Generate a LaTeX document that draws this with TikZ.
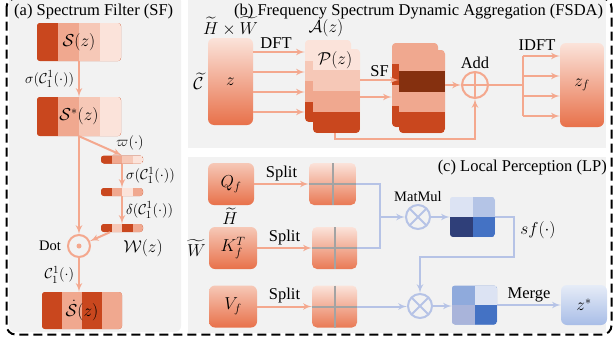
\documentclass[tikz,border=0pt]{standalone}
\usepackage{fontspec}
\setmainfont{Liberation Serif}
\usepackage{amsmath}
\usetikzlibrary{arrows,calc,positioning}

\definecolor{sfdark}{HTML}{C9471E}
\definecolor{sfmid}{HTML}{F0A88F}
\definecolor{sflight}{HTML}{F6C8B7}
\definecolor{sfpale}{HTML}{FBE3DA}
\definecolor{sfbrown}{HTML}{85300F}
\definecolor{sfline}{HTML}{F4A88E}
\definecolor{sfdeep}{HTML}{E8714A}
\definecolor{lpline}{HTML}{B6C3E6}
\definecolor{lpgrid}{HTML}{A3A3A3}
\definecolor{lpnavy}{HTML}{2F3F79}
\definecolor{lpblue}{HTML}{4472C4}
\definecolor{lpsky}{HTML}{B4C4E6}
\definecolor{lpice}{HTML}{DCE3F3}
\definecolor{lpmid}{HTML}{8FAADC}
\definecolor{lplav}{HTML}{A9B4DA}
\definecolor{lptop}{HTML}{E6ECF7}
\definecolor{lpbot}{HTML}{A8BDE7}
\definecolor{panelgray}{HTML}{F2F2F2}

\tikzset{
  hbar/.style n args={4}{inner sep=0pt,fill=#1,rounded corners=3pt,
    path picture={\foreach \c [count=\i from 0] in {#1,#2,#3,#4}
      \fill[\c,sharp corners]
        ($(path picture bounding box.north west)!\i/4!(path picture bounding box.north east)$) rectangle
        ($(path picture bounding box.south west)!{(\i+1)/4}!(path picture bounding box.south east)$);}},
  vbar/.style n args={4}{inner sep=0pt,fill=#1,rounded corners=4pt,
    path picture={\foreach \c [count=\i from 0] in {#1,#2,#3,#4}
      \fill[\c,sharp corners]
        ($(path picture bounding box.north west)!\i/4!(path picture bounding box.south west)$) rectangle
        ($(path picture bounding box.north east)!{(\i+1)/4}!(path picture bounding box.south east)$);}},
  quad/.style n args={4}{inner sep=0pt,fill=#1,rounded corners=3pt,
    path picture={
      \fill[#1,sharp corners] (path picture bounding box.north west) rectangle (path picture bounding box.center);
      \fill[#2,sharp corners] (path picture bounding box.north east) rectangle (path picture bounding box.center);
      \fill[#3,sharp corners] (path picture bounding box.south west) rectangle (path picture bounding box.center);
      \fill[#4,sharp corners] (path picture bounding box.south east) rectangle (path picture bounding box.center);}},
}

\begin{document}
\begin{tikzpicture}
[x=1pt,y=-1pt,>=latex',
 every node/.style={font=\fontsize{16.5}{19}\selectfont,inner sep=1pt}]
  \tikzstyle{flow}=[->,draw=sfline,line width=2pt]
  \tikzstyle{flowwire}=[draw=sfline,line width=2pt]
  \tikzstyle{lpflow}=[->,draw=lpline,line width=2pt]
  \tikzstyle{lpwire}=[draw=lpline,line width=2pt]
  \tikzstyle{small}=[font=\fontsize{15}{17}\selectfont]
  \tikzstyle{mid}=[font=\fontsize{14.5}{17}\selectfont]
  \tikzstyle{gradbox}=[inner sep=0pt,rounded corners=6pt,top color=sfpale,bottom color=sfdeep]
  \tikzstyle{splitbox}=[inner sep=0pt,rounded corners=5pt,top color=sfpale,bottom color=sfdeep!85!sfmid,
    path picture={\draw[lpgrid,line width=2pt] (path picture bounding box.north) -- (path picture bounding box.south)
      (path picture bounding box.west) -- (path picture bounding box.east);}]
  \tikzstyle{op}=[circle,minimum size=24pt,inner sep=0pt,line width=2pt]

  \useasboundingbox (0,0) rectangle (613,343);
  % panels and frame
  \fill[panelgray,rounded corners=6pt] (9,-5) rectangle (181,332);
  \fill[panelgray] (188,-5) rectangle (606,148);
  \fill[panelgray] (188,157) rectangle (606,333);
  \draw[line width=2pt,dash pattern=on 9pt off 5pt,rounded corners=9pt] (6.5,-1.5) rectangle (611.5,334.5);

  % (a) spectrum filter
  \node[anchor=west] (ta) at (13,12) {(a) Spectrum Filter (SF)};
  \node[hbar={sfdark}{sfmid}{sflight}{sfpale},minimum width=84,minimum height=38] (S) at (79,42) {$\mathcal{S}(z)$};
  \node[hbar={sfdark}{sfmid}{sflight}{sfpale},minimum width=84,minimum height=39] (Sstar) at (79,116.5) {$\mathcal{S}^{*}(z)$};
  \node[hbar={sfdark}{sfmid}{sflight}{sfpale},minimum width=42,minimum height=8] (bar1) at (122,159.5) {};
  \node[hbar={sfdark}{sfmid}{sfpale}{sfmid},minimum width=42,minimum height=8] (bar2) at (122,192) {};
  \node[hbar={sfdark}{sflight}{sfdark}{sfmid},minimum width=42,minimum height=8] (bar3) at (122,228) {};
  \node (W) at (143,248) {$\mathcal{W}(z)$};
  \node[op,draw=sfline,minimum size=22pt,
    path picture={\fill[sfline] (path picture bounding box.center) circle (2.5);}] (dot) at (79,246) {};
  \node[mid,left=5pt of dot] (dotlab) {Dot};
  \node[hbar={sfdark}{sfmid}{sfdark}{sfmid},minimum width=80,minimum height=37] (Sdot) at (82,310.5) {$\dot{\mathcal{S}}(z)$};
  \node[small] (varpi) at (130,143) {$\varpi(\cdot)$};

  \draw[flow] (S) -- (Sstar) node[small,midway,left=3pt] {$\sigma(\mathcal{C}_1^1(\cdot))$};
  \draw[flow] (Sstar.south) -- (bar1.north);
  \draw[flow] (bar1) -- (bar2) node[small,midway,right=2pt] {$\sigma(\mathcal{C}_1^1(\cdot))$};
  \draw[flow] (bar2) -- (bar3) node[small,midway,right=2pt] {$\delta(\mathcal{C}_1^1(\cdot))$};
  \draw[flow] (Sstar) -- (dot);
  \draw[flow] ([xshift=-12pt]bar3.south) -- (dot);
  \draw[flow] (dot) -- (dot |- Sdot.north) node[small,midway,left=3pt] {$\mathcal{C}_1^1(\cdot)$};

  % (b) frequency spectrum dynamic aggregation
  \node[anchor=west] (tb) at (233,12) {(b) Frequency Spectrum Dynamic Aggregation (FSDA)};
  \node[gradbox,minimum width=45,minimum height=87] (z) at (230.5,81.5) {$z$};
  \node[above=1pt of z] (hw) {$\widetilde{H}\times\widetilde{W}$};
  \node[left=3pt of z] (cc) {$\widetilde{\mathcal{C}}$};
  \node[vbar={sfpale}{sflight}{sfmid}{sfdark},minimum width=46,minimum height=82] (Aback) at (328,81) {};
  \node[vbar={sfpale}{sflight}{sfmid}{sfdark},minimum width=47,minimum height=84] (Afront) at (336.5,91) {};
  \node (Alab) at (326,28) {$\mathcal{A}(z)$};
  \node (Plab) at (335,60) {$\mathcal{P}(z)$};
  \node[vbar={sfmid}{sfdark}{sfmid}{sfdark},minimum width=46,minimum height=84] (SFback) at (415,85) {};
  \node[vbar={sfmid}{sfbrown}{sfmid}{sfdark},minimum width=46,minimum height=83] (SFfront) at (422,91.5) {};
  \node[op,draw=sfline,minimum size=26pt,
    path picture={\draw[sfline,line width=2pt] (path picture bounding box.north) -- (path picture bounding box.south)
      (path picture bounding box.west) -- (path picture bounding box.east);}] (add) at (475,85) {};
  \node[above=1pt of add] (addlab) {Add};
  \coordinate (fork) at (523,85);
  \node[gradbox,minimum width=44,minimum height=84] (zf) at (582,85) {$z_f$};

  \foreach \y in {52,72,92,112}
    \draw[flow] (z.east |- 0,\y) -- (Aback.west |- 0,\y);
  \node (dft) at (276,43) {DFT};
  \draw[flow] (Afront.east |- 0,80) -- (SFfront.west |- 0,80) node[midway,above=1pt] {SF};
  \draw[flow] (Afront.east |- 0,97) -- (SFback.west |- 0,97);
  \draw[flow] (SFfront.east |- add) -- (add);
  \draw[flow] ([xshift=-1.5pt]Afront.south) -- ++(0,6) -| (add);
  \draw[flowwire] (add) -- (fork);
  \draw[flowwire] (fork |- 0,56) -- (fork |- 0,116);
  \foreach \y in {56,76,96,116}
    \draw[flow] (fork |- 0,\y) -- (zf.west |- 0,\y);
  \node (idft) at (537,45) {IDFT};

  % (c) local perception
  \node[anchor=east] (tc) at (608,168) {(c) Local Perception (LP)};
  \node[gradbox,top color=sflight,minimum width=46,minimum height=42] (Q) at (231,184) {$Q_f$};
  \node[gradbox,top color=sflight,minimum width=48,minimum height=42] (K) at (233,248) {$K_f^{T}$};
  \node[gradbox,top color=sflight,minimum width=48,minimum height=42] (V) at (233,306.5) {$V_f$};
  \node (ht) at (230,216) {$\widetilde{H}$};
  \node[left=2pt of K] (wt) {$\widetilde{W}$};
  \node[splitbox,minimum width=47,minimum height=42] (G1) at (332.5,184) {};
  \node[splitbox,minimum width=45,minimum height=42] (G2) at (334.5,248) {};
  \node[splitbox,minimum width=45,minimum height=42] (G3) at (334.5,306.5) {};
  \draw[flow] (Q) -- (G1) node[midway,above=1pt] {Split};
  \draw[flow] (K) -- (G2) node[midway,above=1pt] {Split};
  \draw[flow] (V) -- (G3) node[midway,above=1pt] {Split};

  \coordinate (mm) at (380,217);
  \node[op,draw=lpline,
    path picture={\draw[lpline,line width=2pt] (path picture bounding box.north west) -- (path picture bounding box.south east)
      (path picture bounding box.north east) -- (path picture bounding box.south west);}] (mul1) at (418,217) {};
  \node[mid,above=1pt of mul1] (mullab) {MatMul};
  \node[quad={lpice}{lpsky}{lpnavy}{lpblue},minimum width=45,minimum height=40] (m1) at (472.5,217) {};
  \node[op,draw=lpline,
    path picture={\draw[lpline,line width=2pt] (path picture bounding box.north west) -- (path picture bounding box.south east)
      (path picture bounding box.north east) -- (path picture bounding box.south west);}] (mul2) at (420,306) {};
  \node[quad={lpmid}{lpice}{lplav}{lpblue},minimum width=45,minimum height=39] (m2) at (474.5,305) {};
  \node[inner sep=0pt,rounded corners=6pt,top color=lptop,bottom color=lpbot,minimum width=46,minimum height=40] (zs) at (584,305) {$z^{*}$};
  \coordinate (sfturn) at (514,257);
  \node (sflab) at (538,230) {$sf(\cdot)$};

  \draw[lpwire] (G1.east) -| (mm) |- (G2.east);
  \draw[lpflow] (mm) -- (mul1);
  \draw[lpflow] (mul1) -- (m1);
  \draw[lpflow] (m1.east) -| (sfturn) -| (mul2);
  \draw[lpflow] (G3.east) -- (mul2.west |- G3.east);
  \draw[lpflow] (mul2) -- (mul2 -| m2.west);
  \draw[lpflow] (m2.east |- zs) -- (zs) node[midway,above=1pt] {Merge};
\end{tikzpicture}
\end{document}
